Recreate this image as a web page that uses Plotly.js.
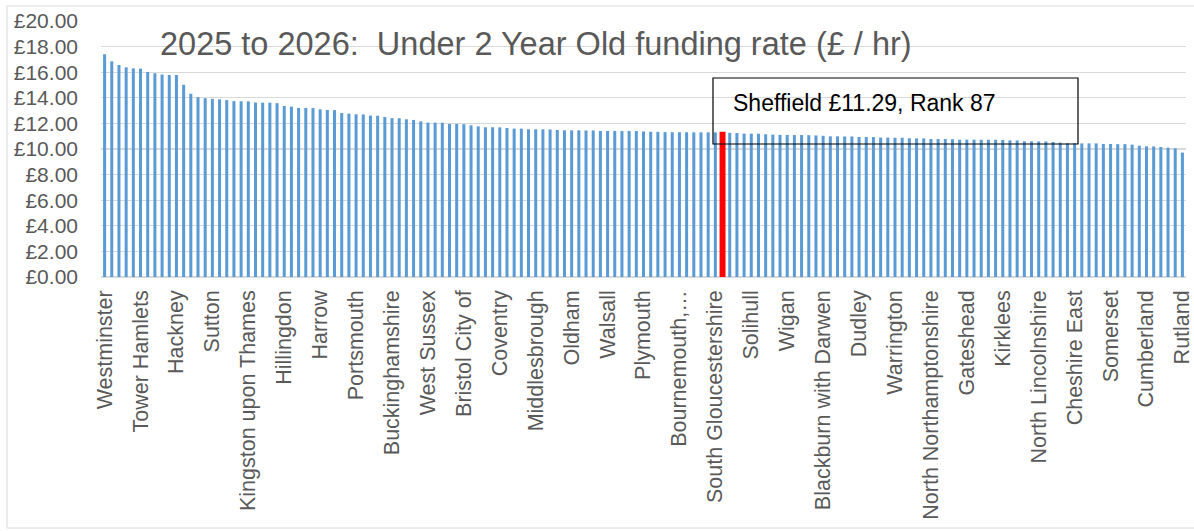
<!DOCTYPE html>
<html>
<head>
<meta charset="utf-8">
<script src="https://cdn.plot.ly/plotly-3.0.1.min.js"></script>
<style>
html,body{margin:0;padding:0;background:#fff;}
#chart{width:1194px;height:531px;}
</style>
</head>
<body>
<div id="chart"></div>
<script>
// Funding rate (£ per hour) for each local authority, sorted by rank (1 = highest)
const rates = [
  17.40, 16.85, 16.56, 16.38, 16.30, 16.28, 16.02, 15.92, 15.82, 15.78,
  15.78, 15.02, 14.32, 14.05, 13.97, 13.92, 13.88, 13.82, 13.74, 13.73,
  13.72, 13.63, 13.62, 13.62, 13.58, 13.36, 13.31, 13.21, 13.21, 13.20,
  13.10, 13.05, 13.04, 12.81, 12.76, 12.71, 12.70, 12.61, 12.60, 12.50,
  12.41, 12.40, 12.32, 12.27, 12.16, 12.06, 12.06, 12.05, 11.96, 11.96,
  11.94, 11.85, 11.77, 11.70, 11.70, 11.69, 11.64, 11.59, 11.59, 11.54,
  11.54, 11.54, 11.53, 11.49, 11.46, 11.46, 11.46, 11.45, 11.45, 11.41,
  11.41, 11.41, 11.40, 11.40, 11.40, 11.36, 11.35, 11.34, 11.32, 11.31,
  11.31, 11.31, 11.30, 11.30, 11.30, 11.30, 11.29, 11.26, 11.25, 11.20,
  11.20, 11.19, 11.15, 11.12, 11.10, 11.10, 11.09, 11.09, 11.08, 11.06,
  11.03, 10.99, 10.99, 10.98, 10.98, 10.94, 10.94, 10.93, 10.89, 10.89,
  10.88, 10.88, 10.84, 10.83, 10.83, 10.78, 10.78, 10.78, 10.77, 10.73,
  10.73, 10.73, 10.72, 10.72, 10.72, 10.71, 10.68, 10.67, 10.60, 10.60,
  10.59, 10.59, 10.55, 10.50, 10.45, 10.45, 10.44, 10.44, 10.44, 10.39,
  10.39, 10.38, 10.38, 10.34, 10.26, 10.21, 10.20, 10.16, 10.11, 10.05,
  9.72
];

// Local authority names shown on the axis (every 5th rank, starting at rank 1)
const axisLabels = [
  "Westminster", "Tower Hamlets", "Hackney", "Sutton", "Kingston upon Thames",
  "Hillingdon", "Harrow", "Portsmouth", "Buckinghamshire", "West Sussex",
  "Bristol City of", "Coventry", "Middlesbrough", "Oldham", "Walsall",
  "Plymouth", "Bournemouth,\u2026", "South Gloucestershire", "Solihull", "Wigan",
  "Blackburn with Darwen", "Dudley", "Warrington", "North Northamptonshire", "Gateshead",
  "Kirklees", "North Lincolnshire", "Cheshire East", "Somerset", "Cumberland",
  "Rutland"
];
const labelEvery = 5;

const highlightName = "Sheffield";
const highlightRank = 87;
const highlightRate = 11.29;

const yTickVals = [0, 2, 4, 6, 8, 10, 12, 14, 16, 18, 20];

const ranks = rates.map((_, i) => i + 1);
const tickRanks = axisLabels.map((_, i) => i * labelEvery + 1);

const blue = '#5B9BD5';
const red = '#FF0000';
const grey = '#595959';
const font = "'Liberation Sans', Arial, sans-serif";

const trace = {
  type: 'bar',
  x: ranks,
  y: rates,
  width: ranks.map(r => r === highlightRank ? 0.62 : 0.42),
  marker: {
    color: ranks.map(r => r === highlightRank ? red : blue),
    line: {
      color: ranks.map(r => r === highlightRank ? red : blue),
      width: ranks.map(r => r === highlightRank ? 1.5 : 0)
    }
  },
  hoverinfo: 'x+y'
};

const W = 1194, H = 531;
const L = 101, R = 8, T = 21, B = 254;
const pw = W - L - R, ph = H - T - B;
const px = v => (v - L) / pw;
const py = v => (H - B - v) / ph;

const layout = {
  width: W, height: H,
  margin: {l: L, r: R, t: T, b: B, pad: 0},
  paper_bgcolor: '#ffffff',
  plot_bgcolor: 'rgba(0,0,0,0)',
  font: {family: font, color: grey},
  showlegend: false,
  bargap: 0,
  title: {
    text: "2025 to 2026:\u00A0 Under 2 Year Old funding rate (£ / hr)",
    font: {family: font, size: 32.5, color: grey},
    x: 160 / W, xref: 'container', xanchor: 'left',
    y: 1 - 44 / H, yref: 'container', yanchor: 'middle'
  },
  xaxis: {
    range: [0.5, rates.length + 0.5],
    tickmode: 'array',
    tickvals: tickRanks,
    ticktext: axisLabels,
    tickangle: -90,
    tickfont: {family: font, size: 21.5, color: grey},
    ticks: '',
    ticklabelstandoff: 8,
    ticklabeloverflow: 'allow',
    showgrid: false,
    zeroline: false,
    showline: false,
    fixedrange: true
  },
  yaxis: {
    range: [0, 20],
    tickmode: 'array',
    tickvals: yTickVals,
    ticktext: yTickVals.map(v => '£' + v.toFixed(2)),
    tickfont: {family: font, size: 21, color: grey},
    ticks: '',
    ticklabelstandoff: 22,
    ticklabeloverflow: 'allow',
    showgrid: true,
    gridcolor: '#d9d9d9',
    gridwidth: 1.3,
    zeroline: true,
    zerolinecolor: '#d9d9d9',
    zerolinewidth: 1.3,
    showline: false,
    fixedrange: true
  },
  shapes: [
    {
      type: 'rect', xref: 'paper', yref: 'paper', layer: 'above',
      x0: px(7), x1: px(1210), y0: py(528), y1: py(6),
      line: {color: '#d9d9d9', width: 1}, fillcolor: 'rgba(0,0,0,0)'
    },
    {
      type: 'rect', xref: 'paper', yref: 'paper', layer: 'above',
      x0: px(713), x1: px(1078), y0: py(144), y1: py(78),
      line: {color: '#000000', width: 1.2}, fillcolor: 'rgba(0,0,0,0)'
    }
  ],
  annotations: [
    {
      xref: 'paper', yref: 'paper',
      x: px(731), y: py(103), xanchor: 'left', yanchor: 'middle',
      text: highlightName + ' £' + highlightRate.toFixed(2) + ', Rank ' + highlightRank,
      showarrow: false,
      font: {family: font, size: 23, color: '#000000'}
    }
  ]
};

Plotly.newPlot('chart', [trace], layout, {displayModeBar: false, staticPlot: true});
</script>
</body>
</html>
